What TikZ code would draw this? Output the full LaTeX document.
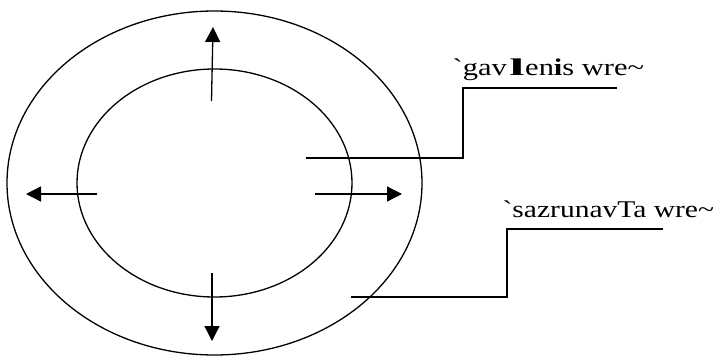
\documentclass[tikz,border=0pt]{standalone}
\usepackage{fontspec}
\newfontfamily\labelfont{Liberation Serif}[Ligatures=TeXOff]
\usetikzlibrary{arrows.meta,positioning}

\begin{document}
\begin{tikzpicture}[
    x=1pt, y=-1pt,
    line width=1.3pt,
    >={Triangle[length=15pt,width=15pt]},
    font=\labelfont\fontsize{24}{28}\selectfont
]
    \useasboundingbox (0,0) rectangle (718,356);

    % Rings
    \coordinate (center) at (214.5,183);
    \draw (center) ellipse [x radius=207.5pt, y radius=172pt];
    \draw (center) ellipse [x radius=137.5pt, y radius=114pt];

    % Spreading arrows
    \coordinate (upfrom) at (211.5,101);
    \coordinate (upto) at (213,27);
    \coordinate (downfrom) at (212,273);
    \coordinate (downto) at (212,341);
    \coordinate (leftfrom) at (97,194);
    \coordinate (leftto) at (26,194);
    \coordinate (rightfrom) at (315,194);
    \coordinate (rightto) at (402,194);
    \draw[->] (upfrom) -- (upto);
    \draw[->] (downfrom) -- (downto);
    \draw[->] (leftfrom) -- (leftto);
    \draw[->] (rightfrom) -- (rightto);

    % Labels
    \node[anchor=base west, inner sep=0pt] (innerlabel) at (452,75.7)
        {\scalebox{1.27}[1]{`gav\kern2pt\scalebox{1.8}[1]{\bfseries l}\kern0.5pt en{\bfseries i}s wre\textasciitilde}};
    \node[anchor=base west, inner sep=0pt] (outerlabel) at (502,217)
        {\scalebox{1.23}[1]{`sazrunavTa wre\textasciitilde}};

    % Leader lines
    \coordinate (innerpt) at (306,158);
    \coordinate (innerknee) at (463,158);
    \coordinate (innerend) at (617,88);
    \draw (innerpt) -- (innerknee) |- (innerend);
    \coordinate (outerpt) at (351,297);
    \coordinate (outerknee) at (507,297);
    \coordinate (outerend) at (663,229);
    \draw (outerpt) -- (outerknee) |- (outerend);
\end{tikzpicture}
\end{document}
